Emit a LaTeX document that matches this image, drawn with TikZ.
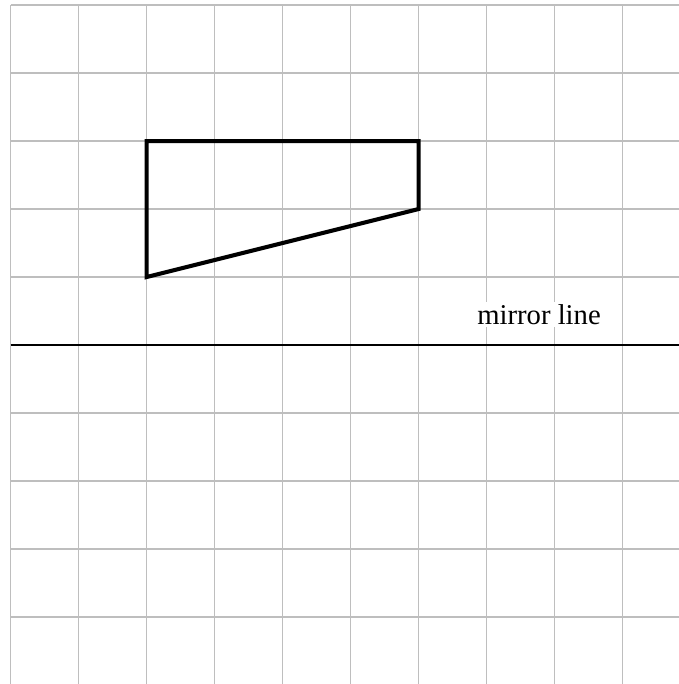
\documentclass[tikz,border=0pt]{standalone}
\usepackage{fontspec}
\setmainfont{Liberation Serif}
\usepackage{xcolor}
\usepackage{tikz}
\usetikzlibrary{positioning,calc}

\definecolor{gridgray}{RGB}{190,190,190}

\begin{document}
\begin{tikzpicture}[x=1cm,y=1cm]
    \useasboundingbox (-0.157,-4.985) rectangle (9.828,5.074);
    \begin{scope}
      % Squared paper
      \foreach \y in {5,4,3,2,1,-1,-2,-3,-4}
        \draw[gridgray, line width=0.45pt] (0,\y) -- (9.828,\y);
      \foreach \x in {0,...,9}
        \draw[gridgray, line width=0.45pt] (\x,5) -- (\x,-4.985);
      % Mirror line
      \coordinate (mirrorL) at (0,0);
      \coordinate (mirrorR) at (9.828,0);
      \draw[black, line width=0.9pt] (mirrorL) -- (mirrorR);
      \node[fill=white, inner sep=1pt, font=\fontsize{12}{14}\selectfont]
        (mirrorlbl) at (7.77,0.45) {mirror line};
      % Shape to reflect
      \coordinate (topL) at (2,3);
      \coordinate (topR) at (6,3);
      \coordinate (botR) at (6,2);
      \coordinate (botL) at (2,1);
      \draw[black, line width=1.7pt, line join=miter]
        (topL) -- (topR) -- (botR) -- (botL) -- cycle;
    \end{scope}
\end{tikzpicture}
\end{document}
